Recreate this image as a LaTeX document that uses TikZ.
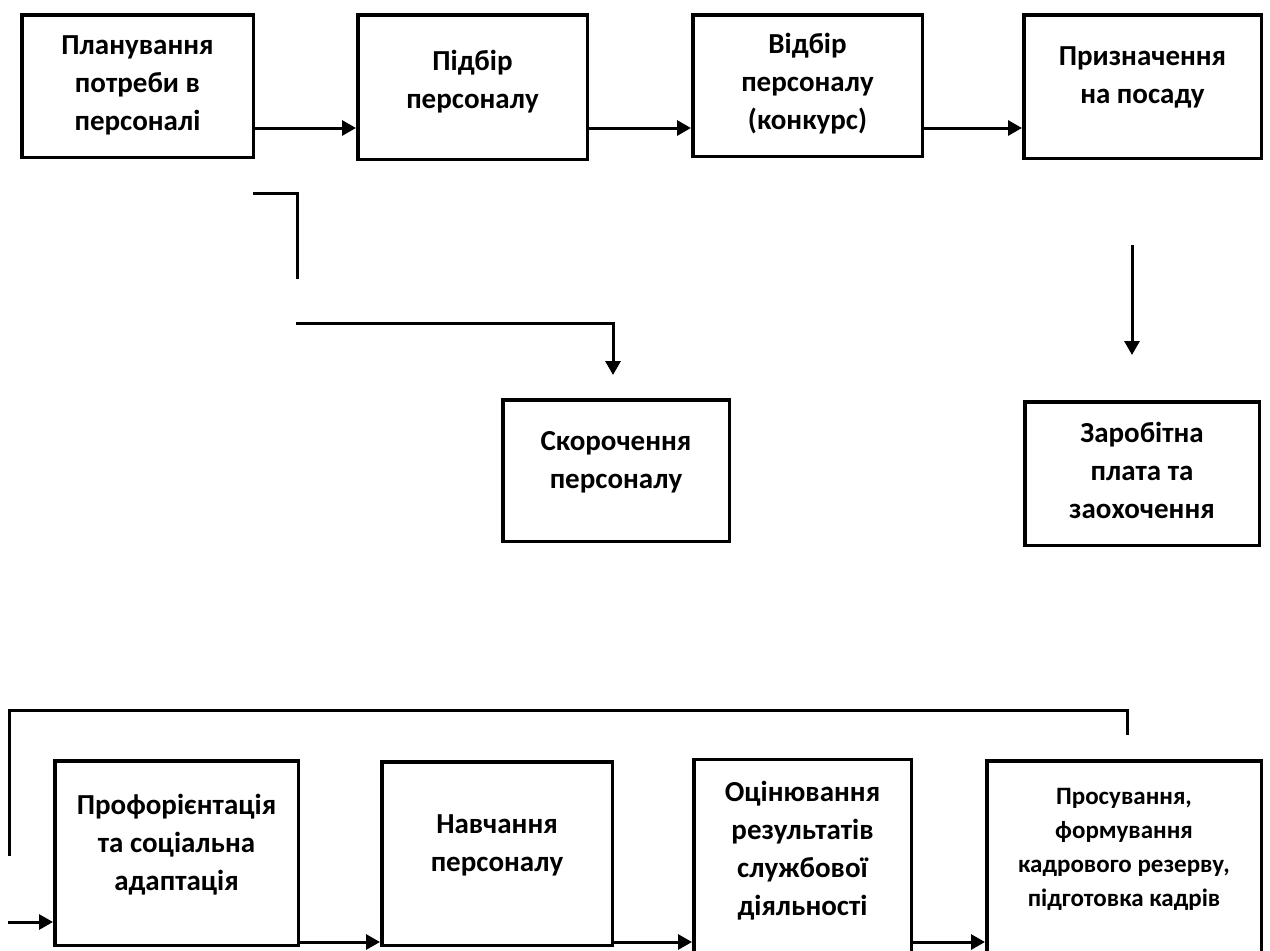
\documentclass[tikz,border=0pt]{standalone}
\usepackage{fontspec}
\setmainfont{Carlito}
\usetikzlibrary{arrows.meta}
\tikzset{
  box/.style={draw, line width=3.5pt, inner sep=0pt, fill=white},
  lbl/.style={font=\fontsize{29}{38}\selectfont\bfseries, align=center, inner sep=0pt},
  lblxs/.style={font=\fontsize{25}{34}\selectfont\bfseries, align=center, inner sep=0pt},
  conn/.style={line width=3pt},
  arr/.style={conn, -{Triangle[length=14pt, width=15pt]}}
}
\begin{document}
\begin{tikzpicture}[x=1pt, y=-1pt]
\useasboundingbox (0,0) rectangle (1270,951);
% top row
\node[box, minimum width=231.5pt, minimum height=142.5pt] (b1) at (137.5,86) {};
\node[box, minimum width=229.5pt, minimum height=144.5pt] (b2) at (472.5,87) {};
\node[box, minimum width=229.5pt, minimum height=141.5pt] (b3) at (807.5,85.5) {};
\node[box, minimum width=237.5pt, minimum height=143.5pt] (b4) at (1142.5,86.5) {};
% middle
\node[box, minimum width=226.5pt, minimum height=141.5pt] (b5) at (616,470.5) {};
\node[box, minimum width=234.5pt, minimum height=143.5pt] (b6) at (1142,473.5) {};
% bottom row
\node[box, minimum width=243.5pt, minimum height=184.5pt] (b7) at (176.5,853) {};
\node[box, minimum width=230.5pt, minimum height=183.5pt] (b8) at (497,853.5) {};
\node[box, minimum width=217.5pt, minimum height=195pt] (b9) at (802.5,857) {};
\node[box, minimum width=274.5pt, minimum height=194pt] (b10) at (1124,858) {};
% texts
\node[lbl] (t1) at (137.5,85) {Планування\\потреби в\\персоналі};
\node[lbl] (t2) at (472.5,81.5) {Підбір\\персоналу};
\node[lbl] (t3) at (807.5,84) {Відбір\\персоналу\\(конкурс)};
\node[lbl] (t4) at (1142.5,77.5) {Призначення\\на посаду};
\node[lbl] (t5) at (616,462) {Скорочення\\персоналу};
\node[lbl] (t6) at (1142,470) {Заробітна\\плата та\\заохочення};
\node[lbl] (t7) at (176.5,845) {Профорієнтація\\та соціальна\\адаптація};
\node[lbl] (t8) at (497,845) {Навчання\\персоналу};
\node[lbl] (t9) at (802.5,851) {Оцінювання\\результатів\\службової\\діяльності};
\node[lblxs] (t10) at (1124,849) {Просування,\\формування\\кадрового резерву,\\підготовка кадрів};
% helper coordinates
\coordinate (ytop) at (0,128);
\coordinate (ybot) at (0,942);
\coordinate (la) at (253,193);
\coordinate (lb) at (297,193);
\coordinate (lc) at (297,279);
\coordinate (ma) at (296,323);
\coordinate (mb) at (613,323);
\coordinate (mc) at (613,375);
\coordinate (ra) at (1132,245);
\coordinate (rb) at (1132,355);
\coordinate (pa) at (9,856);
\coordinate (pb) at (9,710);
\coordinate (pc) at (1127,710);
\coordinate (pd) at (1127,735);
\coordinate (ia) at (8,922);
% connectors
\draw[arr] (b1.east |- ytop) -- (b2.west |- ytop);
\draw[arr] (b2.east |- ytop) -- (b3.west |- ytop);
\draw[arr] (b3.east |- ytop) -- (b4.west |- ytop);
\draw[conn] (la) -- (lb) -- (lc);
\draw[arr] (ma) -- (mb) -- (mc);
\draw[arr] (ra) -- (rb);
\draw[conn] (pa) -- (pb) -- (pc) -- (pd);
\draw[arr] (ia) -- (b7.west |- ia);
\draw[arr] (b7.east |- ybot) -- (b8.west |- ybot);
\draw[arr] (b8.east |- ybot) -- (b9.west |- ybot);
\draw[arr] (b9.east |- ybot) -- (b10.west |- ybot);
\end{tikzpicture}
\end{document}
